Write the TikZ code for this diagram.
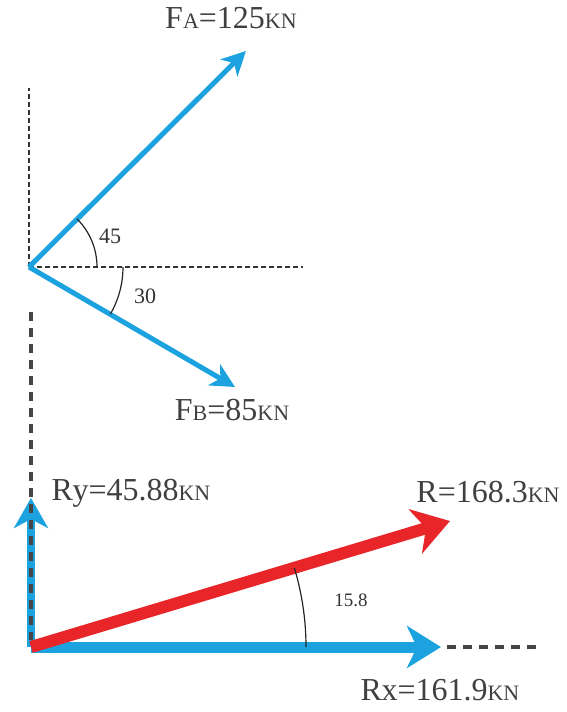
\documentclass[tikz,border=0pt]{standalone}
\usepackage{fontspec}
\setmainfont{Liberation Serif}
\usetikzlibrary{arrows.meta}
\definecolor{vblue}{RGB}{28,162,222}
\definecolor{vred}{RGB}{232,38,42}
\definecolor{dgrey}{RGB}{70,70,70}
\newcommand{\smc}[1]{{\fontsize{22}{22}\selectfont #1}}
\tikzset{
  lbl/.style={font=\fontsize{32}{34}\selectfont, text=black!75, inner sep=1pt},
  anglbl/.style={font=\fontsize{22}{24}\selectfont, text=black!80, inner sep=1pt},
  thinvec/.style={draw=vblue, line width=5pt, -{Stealth[length=24pt,width=24pt,inset=7pt]}},
  thickvec/.style={draw=vblue, line width=11pt, -{Stealth[length=34pt,width=42pt,inset=10pt]}},
  redvec/.style={draw=vred, line width=12pt, -{Stealth[length=36pt,width=46pt,inset=11pt]}},
  thindash/.style={draw=black!80, line width=1.2pt, dash pattern=on 5pt off 3pt},
  thickdash/.style={draw=dgrey, line width=4pt, dash pattern=on 9pt off 7pt},
  arcline/.style={draw=black!85, line width=1.2pt},
}
\begin{document}
\begin{tikzpicture}[x=1pt,y=-1pt]
\useasboundingbox (0,0) rectangle (567,712);
% top group
\coordinate (O1) at (29,267);
\coordinate (V1) at (29,88);
\coordinate (H1) at (303,267);
\coordinate (A) at (246,51);
\coordinate (B) at (235,387);
\draw[thindash] (O1) -- (V1);
\draw[thindash] (O1) -- (H1);
\draw[thinvec] (O1) -- (A);
\draw[thinvec] (O1) -- (B);
\draw[arcline] (O1) ++(0:68) arc[start angle=0, end angle=-45, radius=68];
\draw[arcline] (O1) ++(0:94) arc[start angle=0, end angle=30, radius=94];
\node[anglbl] (a45) at (110,236) {45};
\node[anglbl] (a30) at (145,296) {30};
\node[lbl] (FA) at (231,18) {F\smc{A}=125\smc{KN}};
\node[lbl] (FB) at (232,410) {F\smc{B}=85\smc{KN}};
% bottom group
\coordinate (O2) at (31,647);
\coordinate (Vtop) at (31,312);
\coordinate (Ry) at (31,498);
\coordinate (Rx) at (441,647);
\coordinate (Rend) at (540,647);
\coordinate (R) at (450,521);
\draw[thickdash] (Rx) ++(6,0) -- (Rend);
\draw[thickvec] (O2) -- (Rx);
\draw[thickvec, line width=8pt, -{Stealth[length=30pt,width=34pt,inset=9pt]}] (O2) -- (Ry);
\draw[thickdash] (Vtop) -- (31,640);
\draw[redvec] (O2) -- (R);
\draw[arcline] (O2) ++(0:275) arc[start angle=0, end angle=-16.7, radius=275];
\node[anglbl, font=\fontsize{19}{20}\selectfont] (a158) at (351,600) {15.8};
\node[lbl] (RyL) at (131,493) {R\kern-0.5pt y=45.88\smc{KN}};
\node[lbl] (RL) at (488,492) {R=168.3\smc{KN}};
\node[lbl] (RxL) at (440,690) {R\kern-0.5pt x=161.9\smc{KN}};
\end{tikzpicture}
\end{document}
